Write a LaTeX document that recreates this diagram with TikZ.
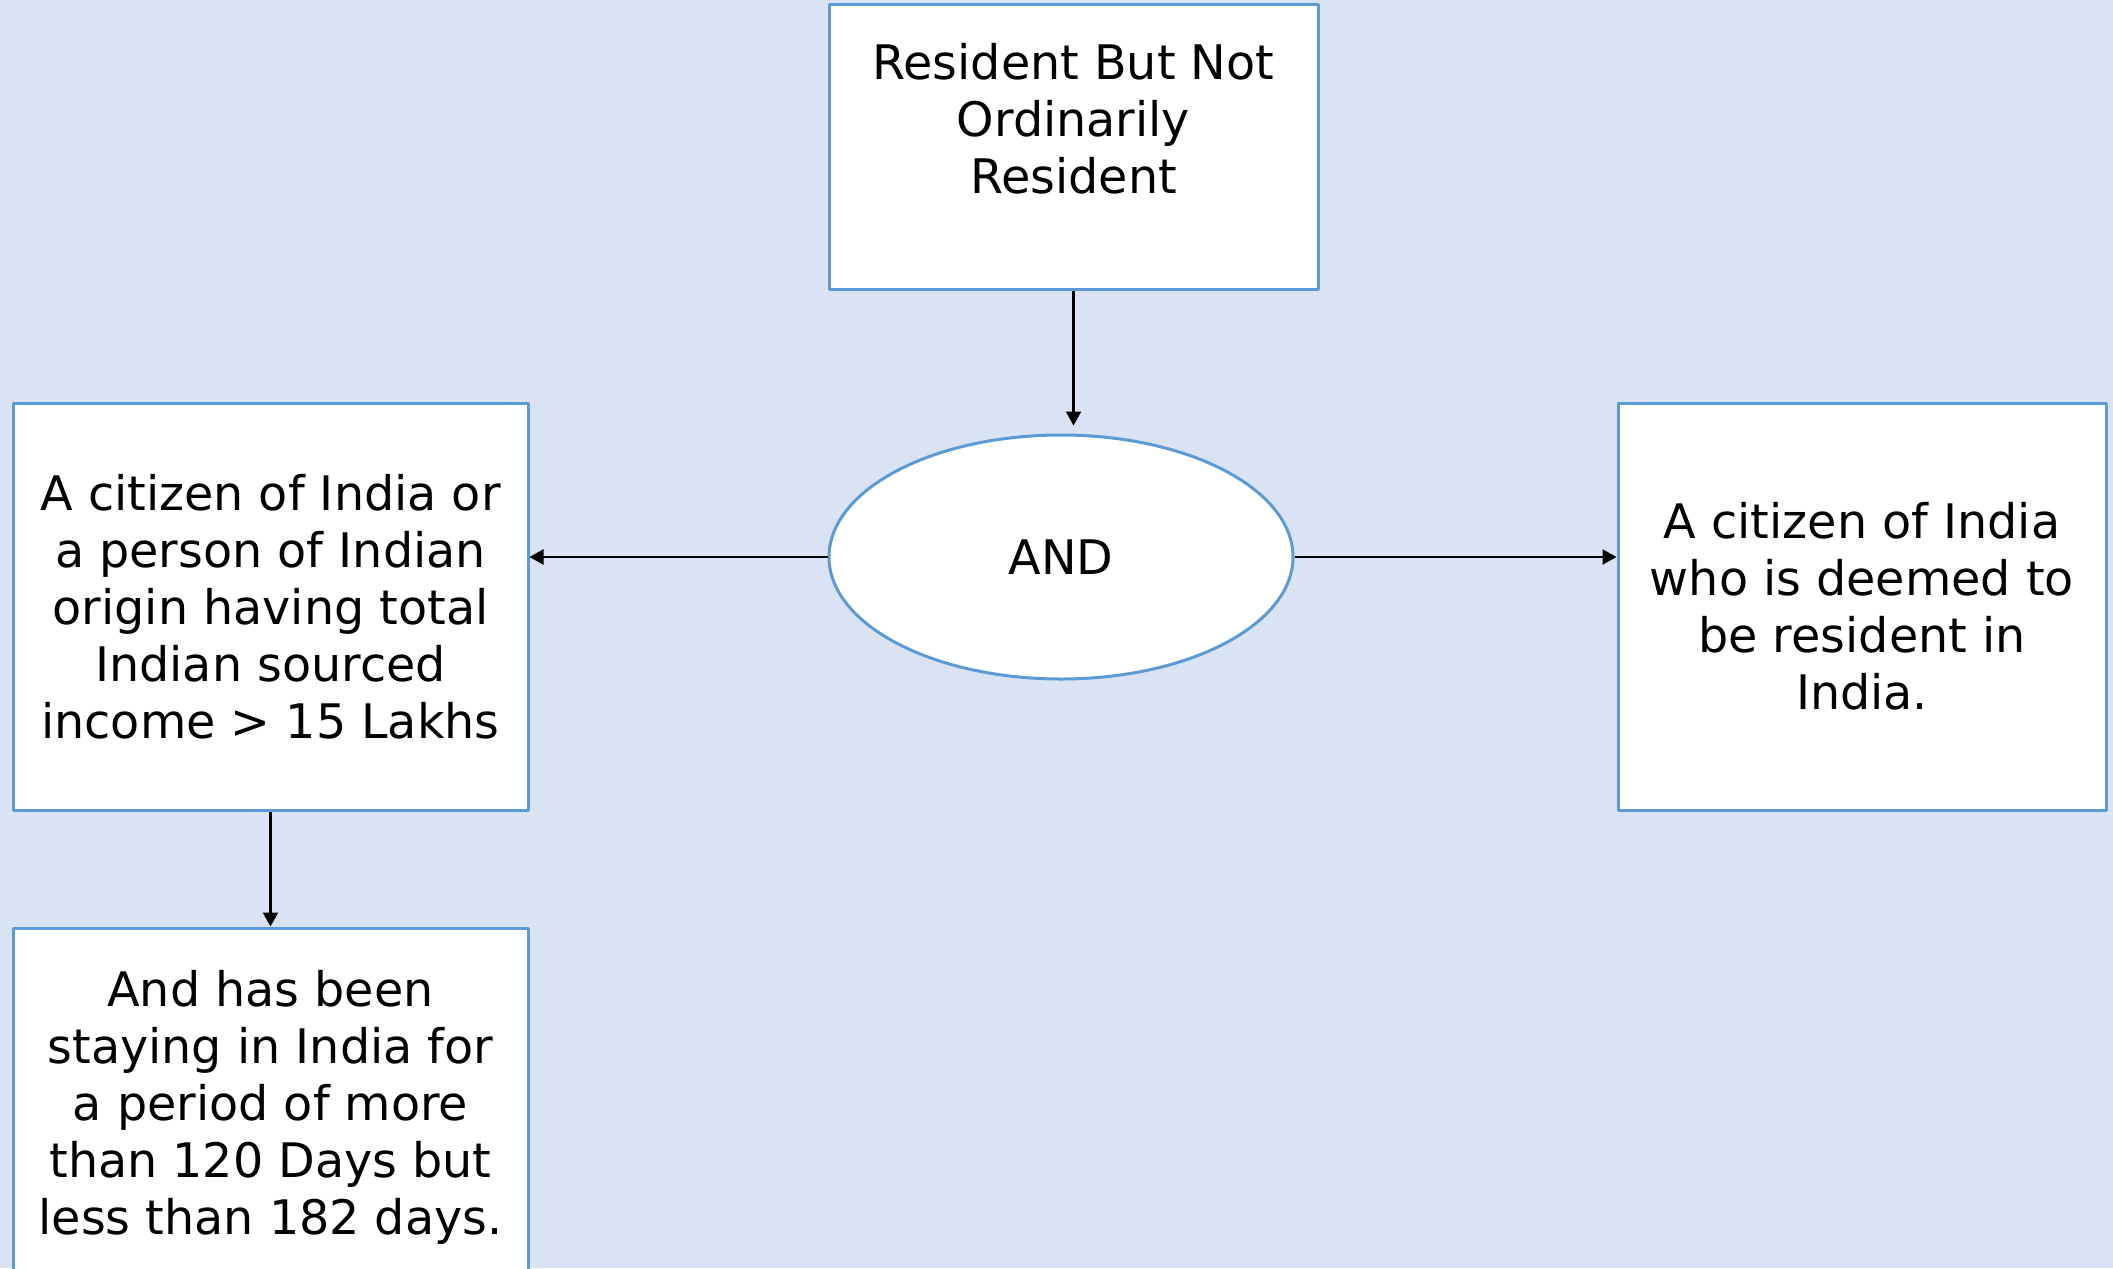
\documentclass[tikz,border=0pt]{standalone}
\usepackage{fontspec}
\setmainfont{DejaVu Sans}
\usetikzlibrary{shapes.geometric,arrows.meta}
\definecolor{bgblue}{HTML}{DAE3F3}
\definecolor{edgeblue}{HTML}{5B9BD5}
\begin{document}
\begin{tikzpicture}[x=0.5pt, y=-0.5pt, font=\fontsize{23.8}{28.5}\selectfont, line join=round, >={Triangle[length=7pt,width=7.5pt]},
	box/.style={draw=edgeblue, line width=1.5pt, fill=white, align=center, inner sep=0pt},
	link/.style={->, line width=1.1pt}]
	\useasboundingbox (0,0) rectangle (2113,1268);
	\fill[bgblue] (0,0) rectangle (2113,1268);
	\clip (0,0) rectangle (2113,1268);
	\node[box, minimum width=244.5pt, minimum height=142pt] (rbnor) at (1073.5,147) {Resident But Not\\Ordinarily\\Resident\\\mbox{}};
	\node[box, ellipse, minimum width=232pt, minimum height=122pt] (andnode) at (1061,557) {AND};
	\node[box, minimum width=257.5pt, minimum height=203.5pt] (origin) at (270.5,606.5) {A citizen of India or\\a person of Indian\\origin having total\\Indian sourced\\income > 15 Lakhs};
	\node[box, minimum width=244pt, minimum height=203.5pt] (deemed) at (1862,606.5) {A citizen of India\\who is deemed to\\be resident in\\India.};
	\node[box, minimum width=257.5pt, minimum height=179pt] (stay) at (270.5,1107) {And has been\\staying in India for\\a period of more\\than 120 Days but\\less than 182 days.};
	\draw[link, shorten >=4pt] (rbnor.south) -- (rbnor.south |- andnode.north);
	\draw[link] (andnode.west) -- (andnode.west -| origin.east);
	\draw[link] (andnode.east) -- (andnode.east -| deemed.west);
	\draw[link] (origin.south) -- (stay.north);
\end{tikzpicture}
\end{document}
